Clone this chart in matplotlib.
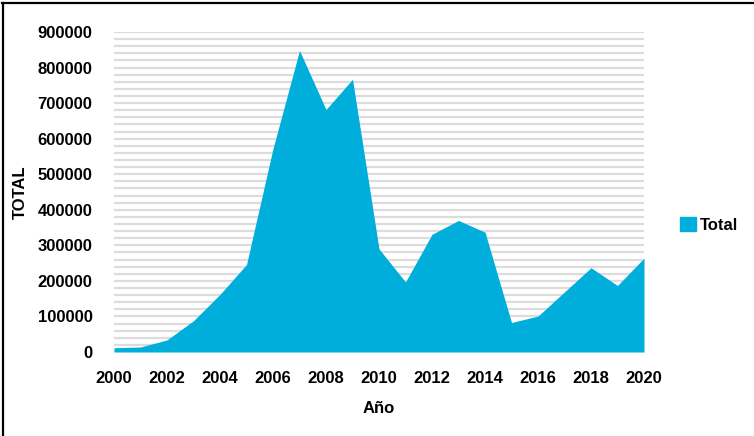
import matplotlib
matplotlib.use("Agg")
import matplotlib.pyplot as plt
from matplotlib.lines import Line2D
from matplotlib.patches import Patch
import numpy as np

years = list(range(2000, 2021))
totals = [12000, 14000, 34000, 88000, 162000, 246000, 572000, 848000, 682000,
          767000, 290000, 197000, 331000, 370000, 337000, 83000, 101000, 169000,
          237000, 187000, 264000]
series_name = "Total"
x_label = "Año"
y_label = "TOTAL"
x_ticks = list(range(2000, 2021, 2))
y_ticks = list(range(0, 900001, 100000))

color = "#00AEDB"
plt.rcParams['font.family'] = ['Liberation Sans', 'DejaVu Sans']
FS = 12

fig = plt.figure(figsize=(7.54, 4.36), dpi=100)
ax = fig.add_axes([114/754, 1-352/436, 530/754, 320/436])

for g in range(0, 900001, 20000):
    ax.axhline(g, color="#dcdcdc", lw=1.6, zorder=0)

ax.fill_between(years, totals, 0, color=color, lw=0, zorder=2, label=series_name)
ax.set_xlim(2000, 2020)
ax.set_ylim(0, 900000)
ax.set_xticks(x_ticks)
ax.set_yticks(y_ticks)
ax.set_xticklabels([str(t) for t in x_ticks], fontsize=FS, fontweight='bold')
ax.set_yticklabels([str(t) for t in y_ticks], fontsize=FS, fontweight='bold')
ax.tick_params(axis='both', length=0)
ax.tick_params(axis='y', pad=15.5)
ax.tick_params(axis='x', pad=14)
for s in ax.spines.values():
    s.set_visible(False)

ax.set_xlabel(x_label, fontsize=FS, fontweight='bold', va='center')
ax.set_ylabel(y_label, fontsize=FS, fontweight='bold', va='center')
ax.xaxis.set_label_coords(0.5, (352-408)/320)
ax.yaxis.set_label_coords((20-114)/530, 0.5)

fig.legend(handles=[Patch(color=color, label=series_name)], loc='center left',
           bbox_to_anchor=(680/754, 1-225/436), frameon=False,
           prop={'size': FS, 'weight': 'bold'}, handlelength=0.95, handleheight=0.95,
           handletextpad=0.25, borderpad=0, borderaxespad=0)

fig.add_artist(Line2D([0.003, 1.0], [1-3.5/436, 1-3.5/436], color='black', lw=1.6,
                      transform=fig.transFigure))
fig.add_artist(Line2D([2.5/754, 2.5/754], [0, 1-3.5/436], color='black', lw=1.6,
                      transform=fig.transFigure))

fig.savefig("out.png", dpi=100)
